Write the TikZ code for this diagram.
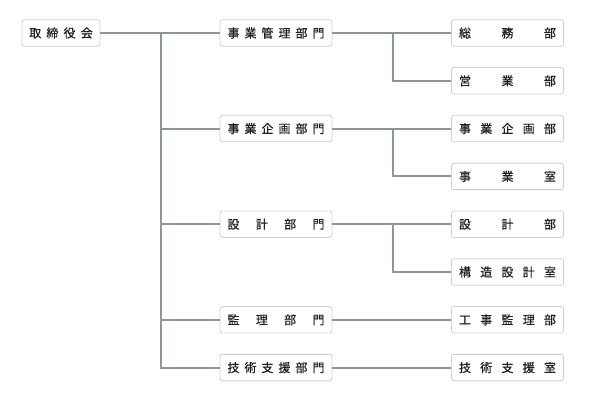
\documentclass[tikz,border=0pt]{standalone}
\usepackage{fontspec}
\setmainfont{Noto Sans CJK JP}[FakeBold=0.5]
\definecolor{linegray}{HTML}{8E9693}
\definecolor{boxgray}{HTML}{CFCFCF}
\definecolor{inkgray}{HTML}{1E1E1E}
\newcommand{\sprd}[2]{\makebox[#1][s]{#2}}
\tikzset{
  unit/.style={draw=boxgray, line width=0.8pt, rounded corners=2.5pt, fill=white,
    inner sep=0pt, minimum width=112pt, minimum height=26.5pt,
    text=inkgray, font=\fontsize{12pt}{12pt}\selectfont},
  link/.style={draw=linegray, line width=2pt}
}
\begin{document}
\begin{tikzpicture}[x=1pt,y=-1pt]
  \useasboundingbox (0,0) rectangle (590,401);

%%%%%%%%%%%%%%%%%%%%%%%%%%%%%%%%%%%%%%%%%%
  % Branch points
  \coordinate (trunk) at (161,33);
  \coordinate (sub1) at (392.7,33);
  \coordinate (sub2) at (392.7,128.6);
  \coordinate (sub3) at (392.7,224.2);

%%%%%%%%%%%%%%%%%%%%%%%%%%%%%%%%%%%%%%%%%%
  % Top
  \node[unit, minimum width=78pt] (board) at (61,33) {\sprd{63.5pt}{取\hfil 締\hfil 役\hfil 会}};

%%%%%%%%%%%%%%%%%%%%%%%%%%%%%%%%%%%%%%%%%%
  % Divisions
  \node[unit] (mgmt) at (276,33)    {\sprd{97pt}{事\hfil 業\hfil 管\hfil 理\hfil 部\hfil 門}};
  \node[unit] (plan) at (276,128.6) {\sprd{97pt}{事\hfil 業\hfil 企\hfil 画\hfil 部\hfil 門}};
  \node[unit] (dsgn) at (276,224.2) {\sprd{97pt}{設\hfil 計\hfil 部\hfil 門}};
  \node[unit] (supv) at (276,319.8) {\sprd{97pt}{監\hfil 理\hfil 部\hfil 門}};
  \node[unit] (tech) at (276,367.6) {\sprd{97pt}{技\hfil 術\hfil 支\hfil 援\hfil 部\hfil 門}};

%%%%%%%%%%%%%%%%%%%%%%%%%%%%%%%%%%%%%%%%%%
  % Departments
  \node[unit] (gen)  at (507.5,33)    {\sprd{97pt}{総\hfil 務\hfil 部}};
  \node[unit] (sale) at (507.5,80.8)  {\sprd{97pt}{営\hfil 業\hfil 部}};
  \node[unit] (bplan) at (507.5,128.6) {\sprd{97pt}{事\hfil 業\hfil 企\hfil 画\hfil 部}};
  \node[unit] (boff) at (507.5,176.4) {\sprd{97pt}{事\hfil 業\hfil 室}};
  \node[unit] (dept) at (507.5,224.2) {\sprd{97pt}{設\hfil 計\hfil 部}};
  \node[unit] (strc) at (507.5,272)   {\sprd{97pt}{構\hfil 造\hfil 設\hfil 計\hfil 室}};
  \node[unit] (cons) at (507.5,319.8) {\sprd{97pt}{工\hfil 事\hfil 監\hfil 理\hfil 部}};
  \node[unit] (toff) at (507.5,367.6) {\sprd{97pt}{技\hfil 術\hfil 支\hfil 援\hfil 室}};

%%%%%%%%%%%%%%%%%%%%%%%%%%%%%%%%%%%%%%%%%%
  % Connectors
  \draw[link] (board.east) -- (mgmt.west);
  \draw[link] (trunk) |- (plan.west);
  \draw[link] (trunk) |- (dsgn.west);
  \draw[link] (trunk) |- (supv.west);
  \draw[link] (trunk) |- (tech.west);

  \draw[link] (mgmt.east) -- (gen.west);
  \draw[link] (sub1) |- (sale.west);
  \draw[link] (plan.east) -- (bplan.west);
  \draw[link] (sub2) |- (boff.west);
  \draw[link] (dsgn.east) -- (dept.west);
  \draw[link] (sub3) |- (strc.west);
  \draw[link] (supv.east) -- (cons.west);
  \draw[link] (tech.east) -- (toff.west);

\end{tikzpicture}
\end{document}
